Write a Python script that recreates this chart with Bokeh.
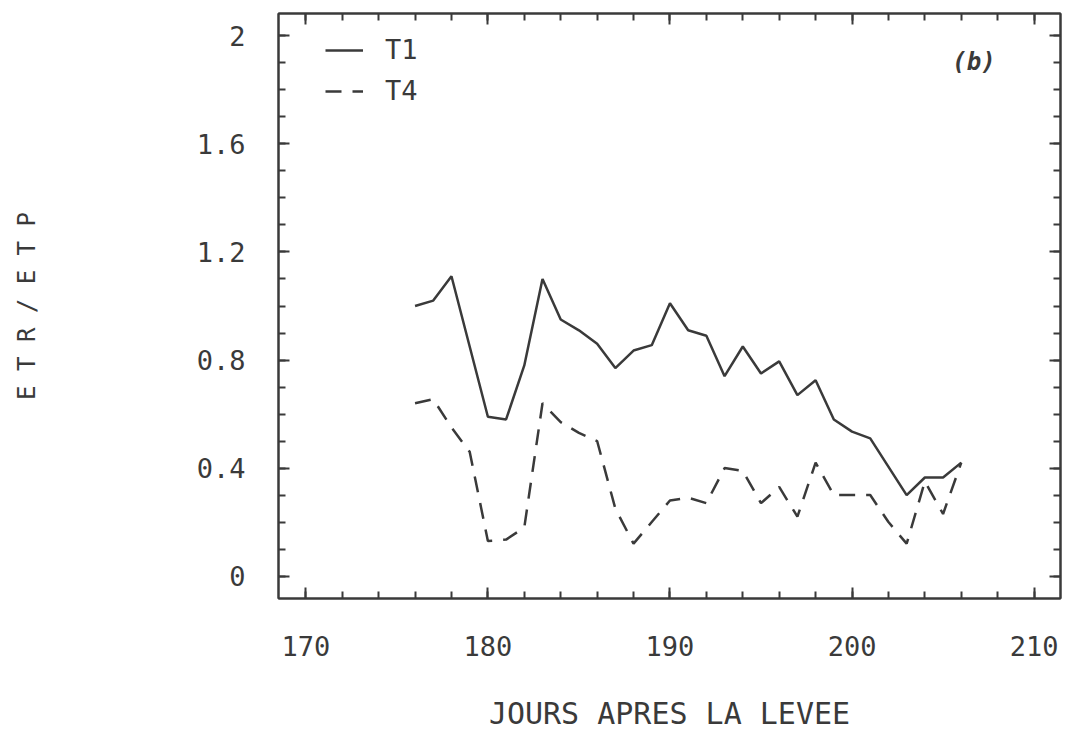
from bokeh.plotting import figure
from bokeh.models import (Range1d, LinearAxis, SingleIntervalTicker, CustomJSTickFormatter,
                          Legend, LegendItem, Label)
from bokeh.embed import file_html
from bokeh.resources import INLINE

# ---- data ----
days_t1 = [176, 177, 178, 179, 180, 181, 182, 183, 184, 185, 186, 187, 188, 189, 190,
           191, 192, 193, 194, 195, 196, 197, 198, 199, 200, 201, 203, 204, 205, 206]
etr_t1 = [1.00, 1.02, 1.11, 0.85, 0.59, 0.58, 0.78, 1.10, 0.95, 0.91, 0.86, 0.77, 0.835, 0.855, 1.01,
          0.91, 0.89, 0.74, 0.85, 0.75, 0.795, 0.67, 0.725, 0.58, 0.535, 0.51, 0.30, 0.365, 0.365, 0.42]

days_t4 = [176, 177, 178, 179, 180, 181, 182, 183, 184, 185, 186, 187, 188, 189, 190, 191,
           192, 193, 194, 195, 196, 197, 198, 199, 200, 201, 202, 203, 204, 205, 206]
etr_t4 = [0.64, 0.655, 0.55, 0.46, 0.13, 0.135, 0.18, 0.64, 0.57, 0.53, 0.50, 0.25, 0.12, 0.20, 0.28, 0.29,
          0.27, 0.40, 0.39, 0.27, 0.33, 0.22, 0.42, 0.30, 0.30, 0.30, 0.20, 0.12, 0.35, 0.23, 0.42]

series_labels = ["T1", "T4"]
x_title = "JOURS APRES LA LEVEE"
y_title = "E T R / E T P"
panel_tag = "(b)"

INK = "#3a3a3a"
MONO = "DejaVu Sans Mono"

p = figure(width=1063, height=735, output_backend="svg", toolbar_location=None,
           x_range=Range1d(168.5, 211.45), y_range=Range1d(-0.083, 2.083),
           min_border_left=278, min_border_right=3, min_border_top=13, min_border_bottom=137,
           background_fill_color="white", border_fill_color="white")
p.grid.visible = False
p.outline_line_color = INK
p.outline_line_width = 2

def style_axis(ax, labels=True):
    ax.axis_line_color = INK
    ax.axis_line_width = 2
    ax.major_tick_line_color = INK
    ax.minor_tick_line_color = INK
    ax.major_tick_line_width = 2
    ax.minor_tick_line_width = 2
    ax.major_tick_in = 11
    ax.major_tick_out = 0
    ax.minor_tick_in = 7
    ax.minor_tick_out = 0
    if labels:
        ax.major_label_text_font = MONO
        ax.major_label_text_font_size = "27px"
        ax.major_label_text_color = INK
        ax.axis_label_text_font = MONO
        ax.axis_label_text_font_style = "normal"
        ax.axis_label_text_color = INK
    else:
        ax.formatter = CustomJSTickFormatter(code="return ''")
        ax.major_label_text_font_size = "0px"

xt = SingleIntervalTicker(interval=10, num_minor_ticks=5)
yt = SingleIntervalTicker(interval=0.4, num_minor_ticks=4)

xa = p.xaxis[0]
xa.ticker = xt
style_axis(xa)
xa.axis_label = x_title
xa.axis_label_text_font_size = "30px"
xa.major_label_standoff = 37
xa.axis_label_standoff = 37

ya = p.yaxis[0]
ya.ticker = yt
style_axis(ya)
ya.axis_label = y_title
ya.axis_label_text_font_size = "24px"
ya.major_label_standoff = 33
ya.axis_label_standoff = 153

top = LinearAxis(ticker=SingleIntervalTicker(interval=10, num_minor_ticks=5))
style_axis(top, labels=False)
p.add_layout(top, "above")
right = LinearAxis(ticker=SingleIntervalTicker(interval=0.4, num_minor_ticks=4))
style_axis(right, labels=False)
p.add_layout(right, "right")

r1 = p.line(days_t1, etr_t1, line_color=INK, line_width=2.5)
r4 = p.line(days_t4, etr_t4, line_color=INK, line_width=2.5, line_dash="16 11")

legend = Legend(items=[LegendItem(label=series_labels[0], renderers=[r1]),
                       LegendItem(label=series_labels[1], renderers=[r4])],
                location="top_left", margin=0, padding=0,
                background_fill_alpha=0, border_line_color=None,
                glyph_width=38, label_standoff=22, spacing=10,
                label_text_font=MONO, label_text_font_size="27px", label_text_color=INK)
legend.location = (47, 492)
p.add_layout(legend)

p.add_layout(Label(x=206.7, y=1.904, text=panel_tag, text_font=MONO, text_font_size="24px",
                   text_font_style="bold italic", text_align="center", text_baseline="middle",
                   text_color=INK))

open("out.html", "w").write(file_html(p, INLINE))
